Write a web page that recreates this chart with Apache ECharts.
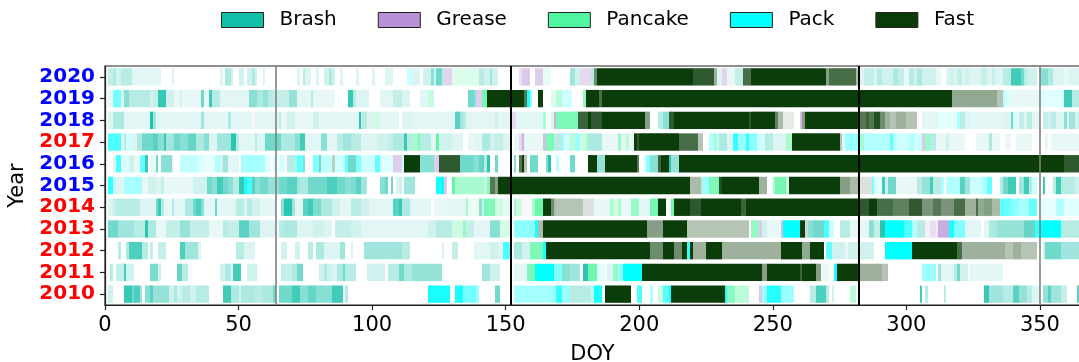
<!DOCTYPE html>
<html>
<head>
<meta charset="utf-8">
<script src="https://cdn.jsdelivr.net/npm/echarts@6/dist/echarts.min.js"></script>
<style>
html, body { margin: 0; padding: 0; background: #ffffff; }
#chart { width: 1079px; height: 362px; }
</style>
</head>
<body>
<div id="chart"></div>
<script>
// Daily ice type per year: [startDOY, endDOY, type, concentration]
// type codes: B = Brash, G = Grease, P = Pancake, K = Pack, F = Fast
const years = ['2010', '2011', '2012', '2013', '2014', '2015', '2016', '2017', '2018', '2019', '2020'];
const blueYears = ['2015', '2016', '2018', '2019', '2020'];

const y2010 = [[1,3,'B',.2],[7,10,'B',.85],[10,11,'B',.6],[11,13,'B',.75],[13,14,'B',.4],[15,17,'B',.5],[17,18,'B',.7],[18,24,'B',.45],[24,26,'B',.2],[26,27,'B',.35],[27,29,'B',.2],[29,32,'B',.3],[32,34,'B',.2],[34,39,'B',.3],[44,47,'B',.8],[47,50,'B',.35],[50,51,'B',.2],[51,56,'B',.35],[56,59,'B',.3],[59,63,'B',.35],[63,64,'B',.6],[65,70,'B',.6],[70,73,'B',.8],[73,76,'B',.5],[76,79,'B',.65],[79,85,'B',.5],[85,89,'B',.8],[90,91,'B',.3],[121,129,'K',.9],[131,134,'K',.9],[134,139,'K',.55],[139,140,'K',.4],[146,148,'B',.6],[153,167,'K',.35],[167,169,'K',.4],[169,171,'K',.8],[171,174,'K',.4],[174,182,'B',.3],[182,183,'K',.3],[183,186,'K',.9],[187,197,'F',1],[199,201,'K',.7],[204,205,'K',.3],[207,209,'P',.3],[209,211,'K',.65],[211,212,'K',.9],[212,232,'F',1],[232,233,'K',.9],[233,236,'P',.65],[236,241,'P',.4],[245,246,'G',.5],[246,248,'K',.4],[248,253,'K',.85],[253,258,'K',.4],[264,266,'B',.3],[266,270,'B',.75],[270,271,'B',.3],[272,273,'B',.2],[279,281,'P',.4],[305,306,'B',.8],[307,308,'B',.3],[314,315,'B',.3],[329,331,'B',.85],[331,336,'B',.4],[336,340,'B',.3],[340,342,'B',.7],[342,345,'B',.45],[345,347,'B',.3],[347,350,'B',.15],[351,353,'B',.45],[353,354,'B',.7],[354,358,'B',.4],[358,360,'B',.25],[364,365,'B',.7]];

const y2011 = [[2,3,'B',.3],[4,7,'B',.25],[7,8,'B',.8],[8,11,'B',.2],[17,20,'B',.55],[20,21,'B',.2],[27,29,'B',.65],[29,31,'B',.3],[43,45,'B',.2],[45,47,'B',.35],[47,48,'B',.15],[48,51,'B',.8],[53,57,'B',.2],[66,70,'B',.25],[70,72,'B',.35],[72,74,'B',.6],[80,82,'B',.2],[82,83,'B',.35],[83,85,'B',.2],[85,87,'B',.15],[87,89,'B',.35],[89,90,'B',.6],[90,94,'B',.3],[98,105,'B',.2],[106,110,'B',.3],[110,112,'B',.6],[112,115,'B',.35],[115,126,'B',.45],[141,144,'B',.4],[144,148,'B',.2],[153,158,'B',.12],[158,161,'P',.75],[161,168,'K',1],[168,171,'K',.5],[171,174,'B',.5],[174,178,'B',.4],[179,181,'B',.9],[181,184,'P',.85],[184,185,'K',.15],[185,187,'K',.1],[188,190,'B',.15],[190,192,'P',.6],[192,194,'K',.4],[194,201,'K',1],[201,246,'F',1],[246,248,'F',.5],[248,260,'F',1],[260,261,'F',.8],[261,266,'F',1],[266,268,'F',.5],[268,271,'B',.1],[273,274,'K',.9],[274,282,'F',1],[282,291,'F',.4],[291,293,'F',.3],[306,311,'K',.4],[312,313,'B',.4],[313,318,'B',.12],[318,319,'B',.3],[319,320,'B',.6],[320,323,'B',.2],[324,336,'B',.12]];

const y2012 = [[5,6,'B',.3],[8,9,'B',.35],[9,14,'B',.75],[14,16,'B',.3],[17,18,'B',.25],[20,23,'B',.25],[28,30,'B',.75],[30,35,'B',.4],[35,36,'B',.15],[49,52,'B',.3],[52,56,'B',.15],[66,68,'B',.2],[71,73,'B',.2],[76,78,'B',.3],[79,82,'B',.35],[82,88,'B',.15],[88,90,'B',.4],[92,93,'B',.15],[97,111,'B',.4],[111,114,'B',.3],[126,127,'B',.15],[130,132,'B',.25],[138,144,'B',.12],[144,147,'B',.2],[147,149,'B',.15],[149,152,'K',.7],[153,156,'B',.35],[156,159,'B',.2],[159,164,'P',.75],[164,165,'K',.9],[165,204,'F',1],[204,209,'F',.6],[209,213,'F',1],[213,216,'F',.6],[216,218,'F',1],[218,219,'K',.8],[219,220,'F',1],[220,225,'F',.4],[225,231,'F',1],[231,253,'F',.4],[253,261,'F',1],[261,264,'F',.45],[264,269,'F',1],[270,272,'K',.6],[272,277,'B',.2],[277,278,'B',.1],[278,288,'B',.2],[292,302,'K',1],[302,319,'F',1],[319,321,'F',.75],[321,337,'F',.4],[337,340,'F',.3],[340,343,'F',.4],[343,349,'F',.3],[351,352,'B',.2],[352,358,'B',.6],[358,365,'B',.4]];

const y2013 = [[1,5,'B',.6],[5,11,'B',.4],[11,15,'B',.3],[15,16,'B',.9],[16,19,'B',.35],[19,23,'B',.1],[23,28,'B',.25],[28,32,'B',.45],[32,39,'B',.25],[39,44,'B',.1],[44,46,'B',.3],[46,50,'B',.25],[50,54,'B',.7],[54,58,'B',.4],[58,64,'B',.15],[65,67,'B',.3],[67,72,'B',.35],[72,78,'B',.15],[78,82,'B',.2],[82,85,'B',.15],[86,92,'B',.25],[92,96,'B',.2],[96,121,'B',.12],[121,124,'B',.2],[124,130,'B',.3],[130,134,'P',.3],[134,135,'P',.6],[135,138,'B',.25],[138,144,'B',.12],[144,148,'B',.5],[148,151,'P',.25],[151,152,'B',.15],[153,161,'K',.45],[161,162,'K',.9],[162,164,'F',.35],[164,203,'F',1],[203,209,'F',.5],[209,218,'F',1],[218,241,'F',.3],[242,245,'P',.6],[245,246,'G',.5],[246,248,'B',.2],[248,253,'B',.1],[253,254,'G',.6],[254,260,'K',1],[260,262,'F',1],[262,263,'F',.2],[263,265,'B',.5],[265,269,'B',.6],[269,271,'K',.7],[271,273,'K',.2],[275,279,'B',.3],[279,286,'B',.1],[286,288,'B',.5],[288,290,'B',.25],[290,292,'B',.9],[292,299,'K',1],[299,302,'K',.7],[302,304,'K',.3],[304,307,'B',.3],[307,309,'G',.15],[309,311,'G',.3],[311,312,'G',.2],[312,316,'G',.75],[316,318,'K',.9],[318,322,'K',.5],[322,328,'B',.12],[329,331,'B',.12],[331,334,'B',.35],[334,344,'B',.45],[344,348,'B',.65],[348,350,'K',.8],[350,358,'K',1],[358,365,'B',.3]];

const y2014 = [[1,3,'B',.15],[3,4,'B',.25],[4,13,'B',.3],[13,19,'B',.15],[19,20,'B',.6],[20,21,'B',.85],[21,22,'B',.3],[22,25,'B',.1],[25,26,'B',.3],[26,30,'B',.12],[30,33,'B',.35],[33,34,'B',.6],[34,36,'B',.75],[36,37,'B',.5],[37,41,'B',.12],[41,42,'B',.6],[42,49,'B',.12],[49,52,'B',.3],[52,53,'B',.15],[53,55,'B',.3],[55,58,'B',.2],[58,64,'B',.12],[66,67,'B',.5],[67,70,'B',.9],[70,71,'B',.4],[71,74,'B',.12],[74,76,'B',.7],[76,78,'B',.8],[78,81,'B',.55],[81,85,'B',.35],[85,88,'B',.2],[88,92,'B',.12],[92,96,'B',.3],[96,99,'B',.2],[99,108,'B',.12],[108,110,'B',.7],[110,111,'B',.85],[111,114,'B',.35],[114,122,'B',.12],[123,128,'B',.1],[128,135,'B',.12],[135,136,'P',.5],[136,140,'P',.12],[140,141,'B',.5],[141,142,'P',.35],[142,146,'P',.75],[146,149,'P',.3],[149,151,'B',.1],[151,152,'P',.25],[153,154,'P',.5],[154,156,'P',.3],[156,160,'G',.08],[160,161,'P',.5],[161,164,'P',.85],[164,167,'F',1],[167,168,'F',.6],[168,169,'F',.35],[169,179,'F',.3],[179,183,'F',.15],[183,189,'B',.1],[189,190,'P',.5],[190,192,'P',.3],[192,193,'P',.5],[193,197,'B',.1],[197,200,'P',.6],[200,204,'B',.12],[204,207,'P',.8],[207,210,'F',1],[210,212,'B',.05],[212,213,'P',.8],[213,219,'F',1],[219,223,'F',.85],[223,238,'F',1],[238,240,'F',.8],[240,282,'F',1],[282,286,'F',.85],[286,289,'F',1],[289,295,'F',.75],[295,301,'F',.65],[301,306,'F',.85],[306,310,'F',.55],[310,313,'F',.7],[313,318,'F',.55],[318,322,'F',.75],[322,326,'F',.4],[326,327,'F',.75],[327,329,'F',.45],[329,332,'F',.5],[332,335,'F',.35],[335,339,'K',.6],[339,342,'K',.45],[342,346,'K',.35],[346,349,'K',.6],[350,356,'K',.1],[356,359,'K',.3],[359,365,'K',.12]];

const y2015 = [[1,3,'K',.8],[3,4,'K',.25],[4,7,'B',.15],[7,14,'K',.35],[14,16,'B',.1],[16,19,'B',.2],[19,21,'B',.15],[21,22,'B',.25],[22,33,'B',.1],[33,38,'B',.2],[38,40,'B',.6],[40,42,'B',.5],[42,44,'B',.8],[44,46,'B',.6],[46,48,'B',.5],[48,50,'B',.3],[50,52,'B',.85],[52,53,'K',.9],[53,55,'K',.7],[55,56,'B',.7],[56,58,'B',.5],[58,61,'B',.6],[61,65,'B',.45],[65,68,'B',.6],[68,72,'B',.7],[72,73,'B',.4],[73,76,'B',.35],[76,83,'B',.6],[83,87,'B',.75],[87,90,'B',.6],[90,92,'B',.5],[92,94,'B',.55],[94,96,'B',.7],[96,98,'B',.4],[103,105,'B',.5],[105,106,'B',.6],[107,108,'B',.6],[109,110,'B',.15],[110,111,'B',.2],[112,116,'B',.4],[124,126,'K',.9],[126,127,'K',1],[127,128,'G',.5],[130,131,'P',.9],[131,142,'P',.5],[142,143,'P',.3],[143,144,'P',.7],[144,146,'F',.7],[146,147,'F',.5],[147,219,'F',1],[219,223,'F',.35],[223,224,'B',.3],[224,226,'K',.4],[226,230,'P',.75],[230,231,'F',.9],[231,245,'F',1],[245,248,'F',.4],[250,251,'P',.5],[251,255,'P',.8],[255,256,'P',.3],[256,275,'F',1],[275,279,'F',.5],[279,282,'F',.35],[282,287,'F',.15],[287,288,'K',.5],[288,289,'K',.2],[289,291,'K',.1],[291,292,'B',.8],[292,293,'B',.2],[293,296,'B',.6],[296,304,'B',.1],[304,306,'B',.3],[306,309,'B',.45],[309,310,'B',.8],[310,313,'B',.3],[313,314,'K',.3],[315,320,'K',.3],[320,322,'B',.7],[322,324,'B',.4],[324,328,'K',.2],[328,330,'K',.3],[330,332,'K',.6],[335,336,'B',.3],[336,338,'B',.6],[338,341,'B',.8],[342,344,'B',.4],[344,346,'B',.8],[346,347,'B',.3],[347,349,'K',.2],[351,352,'B',.8],[355,356,'B',.3],[356,358,'B',.8],[358,363,'B',.3],[363,365,'B',.2]];

const y2016 = [[3,4,'B',.15],[4,6,'K',.7],[6,9,'K',.15],[9,11,'B',.2],[11,13,'B',.1],[13,15,'K',.6],[15,16,'B',.85],[17,19,'B',.1],[19,20,'B',.6],[21,25,'B',.5],[25,26,'G',.15],[28,35,'K',.25],[35,37,'K',.15],[37,41,'K',.1],[41,43,'K',.3],[43,44,'B',.2],[44,46,'B',.4],[46,50,'B',.12],[51,60,'K',.35],[60,62,'K',.12],[63,64,'K',.15],[65,67,'K',.2],[68,71,'B',.3],[71,72,'K',.4],[72,74,'K',.6],[74,75,'B',.5],[78,80,'K',.5],[80,81,'B',.6],[81,85,'K',.25],[85,86,'F',.25],[86,90,'K',.2],[90,91,'K',.6],[91,94,'B',.6],[94,96,'K',.5],[96,101,'K',.2],[101,103,'K',.6],[103,105,'K',.15],[105,108,'K',.15],[108,111,'G',.45],[111,112,'K',.2],[112,118,'F',1],[118,123,'B',.5],[123,125,'G',.45],[125,133,'F',.85],[133,138,'B',.6],[138,140,'B',.5],[140,142,'B',.65],[142,143,'B',.3],[143,144,'B',.9],[146,147,'B',.6],[153,154,'B',.5],[155,156,'F',.7],[156,157,'F',1],[157,158,'F',.3],[159,162,'B',.6],[165,166,'B',.5],[166,167,'B',.9],[169,170,'K',.25],[174,176,'B',.6],[181,184,'F',1],[184,187,'B',.45],[187,199,'F',1],[199,200,'F',.7],[202,203,'K',.3],[203,204,'K',.5],[204,207,'B',.5],[207,208,'F',.8],[208,211,'F',1],[211,212,'B',.9],[212,215,'B',.45],[215,359,'F',1],[359,365,'F',.85]];

const y2017 = [[1,6,'K',.7],[6,7,'B',.15],[7,8,'B',.3],[8,10,'K',.2],[10,12,'B',.15],[12,14,'B',.35],[14,18,'B',.6],[18,20,'B',.7],[20,22,'B',.5],[22,23,'B',.85],[23,26,'B',.4],[26,28,'B',.6],[28,31,'B',.5],[31,34,'B',.65],[34,37,'B',.35],[37,39,'B',.5],[39,42,'B',.15],[42,47,'B',.4],[47,49,'B',.9],[49,50,'B',.3],[50,56,'B',.12],[56,57,'B',.3],[57,60,'B',.15],[60,66,'B',.6],[66,71,'B',.35],[71,73,'B',.5],[73,75,'B',.8],[75,81,'B',.12],[81,83,'B',.5],[83,87,'B',.12],[87,89,'B',.3],[89,92,'B',.4],[92,96,'B',.3],[96,102,'B',.15],[102,106,'B',.2],[106,108,'B',.25],[108,112,'B',.35],[112,113,'B',.85],[113,115,'B',.3],[115,117,'P',.5],[117,118,'P',.7],[118,122,'B',.3],[122,124,'B',.12],[124,125,'P',.9],[125,130,'B',.2],[130,134,'B',.15],[136,138,'B',.1],[138,141,'B',.12],[141,144,'B',.35],[144,146,'B',.2],[146,149,'B',.25],[149,152,'B',.15],[153,155,'B',.1],[155,156,'G',.35],[156,157,'G',.7],[157,164,'B',.1],[164,165,'G',.6],[165,168,'P',.75],[168,171,'B',.3],[171,172,'K',.4],[172,174,'K',.2],[174,176,'P',.4],[176,178,'K',.4],[178,180,'P',.3],[180,181,'P',.5],[181,186,'B',.35],[186,192,'B',.1],[192,193,'P',.6],[193,195,'B',.12],[195,196,'P',.4],[196,198,'B',.1],[198,199,'F',1],[199,200,'F',.85],[200,215,'F',1],[215,222,'F',.75],[222,224,'F',.3],[226,228,'K',.3],[228,229,'P',.5],[229,230,'K',.25],[230,233,'B',.35],[233,235,'B',.15],[235,237,'K',.8],[237,240,'K',.4],[240,241,'K',.8],[241,244,'K',.45],[244,247,'K',.2],[247,250,'B',.3],[250,255,'B',.15],[255,257,'P',.5],[257,275,'F',1],[275,276,'F',.3],[276,277,'B',.12],[277,283,'K',.4],[283,284,'P',.5],[284,294,'K',.3],[294,295,'K',.6],[295,296,'K',.3],[296,301,'K',.2],[301,303,'K',.3],[303,306,'K',.2],[306,307,'G',.5],[307,309,'P',.6],[309,311,'B',.3],[311,315,'B',.1],[315,316,'B',.2],[316,322,'B',.1],[326,331,'B',.1],[331,332,'B',.35],[332,335,'B',.1],[337,339,'B',.1],[341,347,'B',.1],[352,353,'B',.1],[354,365,'B',.1]];

const y2018 = [[1,3,'B',.15],[3,7,'B',.35],[7,17,'B',.12],[17,18,'B',.95],[18,19,'B',.4],[19,36,'B',.12],[36,37,'B',.4],[37,46,'B',.12],[46,47,'B',.35],[47,55,'B',.12],[55,56,'G',.1],[56,65,'B',.12],[65,66,'B',.3],[66,68,'B',.1],[68,71,'B',.2],[71,78,'B',.1],[78,80,'B',.2],[80,95,'B',.12],[95,96,'B',.9],[96,98,'B',.3],[98,101,'B',.15],[101,103,'P',.3],[103,110,'B',.12],[111,115,'B',.15],[115,131,'B',.12],[131,133,'B',.7],[133,134,'B',.4],[134,135,'B',.3],[135,137,'B',.15],[137,146,'B',.12],[146,147,'B',.2],[147,152,'B',.12],[152,154,'G',.35],[154,164,'B',.12],[164,165,'P',.5],[167,168,'P',.25],[168,169,'G',.7],[169,177,'P',.75],[177,181,'F',.8],[181,182,'F',1],[182,186,'F',.85],[186,202,'F',1],[202,204,'F',.5],[207,209,'B',.3],[209,211,'B',.5],[211,213,'F',.85],[213,241,'F',1],[241,242,'F',.85],[242,251,'F',1],[251,252,'F',.65],[252,254,'F',.35],[254,258,'F',.1],[260,261,'G',.6],[261,262,'F',.5],[262,282,'F',1],[282,285,'F',.7],[285,286,'F',.8],[286,288,'F',.7],[288,290,'F',.9],[290,292,'F',.6],[292,294,'F',.4],[294,296,'F',.3],[296,300,'F',.4],[300,304,'F',.3],[306,312,'B',.12],[312,319,'K',.1],[319,320,'K',.3],[320,322,'B',.3],[322,324,'B',.15],[324,336,'B',.12],[336,339,'B',.15],[339,340,'B',.6],[340,342,'K',.15],[342,344,'B',.25],[344,345,'B',.15],[345,347,'B',.3],[347,350,'B',.12],[351,353,'B',.25],[353,354,'B',.2],[354,356,'B',.3],[356,359,'B',.15],[359,360,'B',.5],[360,361,'B',.15],[361,363,'B',.4],[363,365,'B',.2]];

const y2019 = [[1,3,'B',.1],[3,6,'K',.55],[6,7,'B',.15],[7,9,'B',.5],[9,17,'B',.3],[17,18,'B',.2],[18,20,'B',.25],[20,23,'B',.85],[23,26,'B',.2],[26,28,'B',.1],[28,29,'B',.2],[29,36,'B',.1],[36,37,'B',.6],[37,39,'B',.1],[39,40,'B',.8],[40,43,'B',.3],[43,54,'B',.12],[54,57,'B',.5],[57,59,'B',.35],[59,61,'B',.45],[61,63,'B',.3],[63,69,'B',.25],[69,72,'B',.45],[72,77,'B',.12],[77,78,'B',.3],[78,86,'B',.1],[91,93,'B',.85],[93,94,'B',.3],[94,99,'B',.15],[103,108,'B',.12],[108,111,'B',.25],[111,114,'B',.15],[118,121,'B',.12],[121,123,'P',.35],[136,138,'B',.6],[138,139,'B',.5],[139,141,'G',.45],[141,143,'P',.8],[143,157,'F',1],[157,158,'F',.7],[158,159,'K',.9],[159,160,'K',.4],[162,164,'F',1],[167,169,'P',.2],[169,171,'P',.4],[171,175,'K',.2],[179,180,'P',.6],[180,185,'F',1],[185,186,'F',.75],[186,317,'F',1],[317,334,'F',.45],[334,336,'F',.3],[336,337,'K',.3],[337,339,'K',.15],[339,350,'B',.1],[350,359,'K',.12],[359,362,'B',.8],[362,365,'B',.3]];

const y2020 = [[1,3,'B',.25],[3,4,'B',.35],[4,6,'B',.2],[6,10,'B',.3],[10,21,'B',.12],[25,26,'B',.15],[43,44,'B',.15],[45,47,'B',.35],[47,48,'B',.2],[50,52,'B',.2],[53,55,'B',.2],[55,56,'B',.35],[56,57,'B',.2],[59,60,'B',.15],[72,73,'B',.15],[74,75,'B',.3],[75,77,'B',.15],[79,80,'B',.15],[82,84,'B',.2],[84,85,'B',.35],[85,86,'B',.2],[88,89,'B',.15],[94,95,'B',.15],[100,101,'B',.15],[105,108,'B',.15],[113,115,'K',.2],[115,118,'B',.15],[119,122,'B',.2],[122,123,'B',.5],[123,124,'B',.2],[124,126,'B',.6],[126,127,'B',.3],[127,130,'G',.4],[130,133,'P',.2],[133,140,'P',.2],[140,142,'B',.3],[142,144,'B',.2],[144,145,'B',.4],[145,147,'B',.2],[155,156,'G',.3],[156,159,'G',.5],[161,164,'G',.45],[164,167,'P',.15],[174,176,'B',.4],[176,178,'B',.2],[178,182,'G',.35],[182,183,'B',.3],[183,184,'F',.6],[184,220,'F',1],[220,228,'F',.85],[228,229,'F',.4],[229,231,'B',.15],[231,233,'G',.4],[233,236,'B',.1],[236,239,'B',.25],[239,242,'F',.75],[242,270,'F',1],[270,271,'F',.5],[271,281,'F',.75],[281,282,'F',.35],[282,284,'B',.15],[284,288,'B',.25],[288,289,'B',.15],[289,291,'B',.3],[291,295,'B',.2],[295,297,'B',.35],[297,299,'B',.25],[299,301,'B',.1],[301,303,'B',.3],[303,304,'B',.2],[304,306,'B',.35],[306,311,'B',.2],[311,313,'B',.1],[315,316,'B',.15],[316,318,'B',.2],[318,319,'B',.15],[319,321,'B',.25],[321,322,'B',.15],[322,324,'B',.2],[324,328,'B',.15],[328,330,'B',.25],[330,332,'B',.15],[332,333,'B',.25],[333,336,'B',.15],[336,339,'B',.3],[339,343,'B',.8],[343,344,'B',.6],[344,345,'B',.3],[345,349,'B',.2],[350,353,'B',.5],[353,355,'B',.35],[355,359,'B',.15],[359,361,'B',.1],[361,365,'B',.15]];

const yearRows = [y2010, y2011, y2012, y2013, y2014, y2015, y2016, y2017, y2018, y2019, y2020];

const iceTypes = [
  { code: 'B', name: 'Brash',   color: '#12BFA9' },
  { code: 'G', name: 'Grease',  color: '#B891D6' },
  { code: 'P', name: 'Pancake', color: '#52F5A0' },
  { code: 'K', name: 'Pack',    color: '#00FFFF' },
  { code: 'F', name: 'Fast',    color: '#0B3D0B' }
];

// reference lines along the DOY axis: [doy, colour]
const refLines = [[64, '#808080'], [152, '#000000'], [282, '#000000'], [350, '#808080']];
const xTicks = [0, 50, 100, 150, 200, 250, 300, 350];

const FONT = 'DejaVu Sans';

function renderSpan(params, api) {
  const row = api.value(2);
  const a = api.coord([api.value(0), row]);
  const b = api.coord([api.value(1), row]);
  const h = api.size([0, 1])[1] * 0.8;
  const x0 = Math.round(a[0]);
  const x1 = Math.round(b[0]);
  return {
    type: 'rect',
    shape: { x: x0, y: a[1] - h / 2, width: x1 - x0, height: h },
    style: { fill: api.visual('color'), opacity: api.value(3) }
  };
}

const series = iceTypes.map(t => {
  const data = [];
  yearRows.forEach((row, yi) => {
    row.forEach(s => { if (s[2] === t.code) data.push([s[0], s[1], yi, s[3]]); });
  });
  return {
    type: 'custom',
    name: t.name,
    renderItem: renderSpan,
    itemStyle: { color: t.color },
    encode: { x: [0, 1], y: 2 },
    data: data,
    z: 2
  };
});

series.push({
  type: 'custom',
  name: 'refs',
  renderItem: () => null,
  data: [],
  z: 5,
  markLine: {
    silent: true,
    symbol: 'none',
    z: 10,
    label: { show: false },
    data: refLines.map(r => ({ xAxis: r[0], lineStyle: { color: r[1], width: r[1] === '#000000' ? 2 : 1.6, type: 'solid', opacity: 1 } }))
  }
});

const chart = echarts.init(document.getElementById('chart'), null, { renderer: 'canvas' });
chart.setOption({
  backgroundColor: '#ffffff',
  animation: false,
  legend: {
    data: iceTypes.map(t => t.name),
    left: 216,
    top: 5,
    itemWidth: 42,
    itemHeight: 15,
    itemGap: 41,
    icon: 'rect',
    itemStyle: { borderColor: '#222222', borderWidth: 1 },
    textStyle: { fontFamily: FONT, fontSize: 20, color: '#000000', padding: [0, 0, 0, 11] }
  },
  grid: {
    left: 105, right: -1, top: 66, bottom: 57,
    outerBoundsMode: 'none',
    containLabel: false,
    show: true, borderColor: '#222222', borderWidth: 1.2, backgroundColor: 'transparent'
  },
  xAxis: {
    type: 'value',
    min: 0, max: 365, interval: 50,
    name: 'DOY', nameLocation: 'middle', nameGap: 39,
    nameTextStyle: { fontFamily: FONT, fontSize: 21, color: '#000000' },
    axisLine: { show: true, lineStyle: { color: '#222222', width: 1.2 } },
    axisTick: { show: true, length: 5, lineStyle: { color: '#222222', width: 1.2 } },
    axisLabel: {
      fontFamily: FONT, fontSize: 21, color: '#000000', margin: 10, showMaxLabel: false,
      formatter: v => (xTicks.indexOf(v) >= 0 ? String(v) : '')
    },
    splitLine: { show: false }
  },
  yAxis: {
    type: 'category',
    data: years,
    name: 'Year', nameLocation: 'middle', nameGap: 75,
    nameTextStyle: { fontFamily: FONT, fontSize: 21, color: '#000000' },
    axisLine: { show: true, lineStyle: { color: '#222222', width: 1.2 } },
    axisTick: { show: true, alignWithLabel: true, length: 5, lineStyle: { color: '#222222', width: 1.2 } },
    axisLabel: {
      margin: 10,
      formatter: v => (blueYears.indexOf(v) >= 0 ? '{b|' + v + '}' : '{r|' + v + '}'),
      rich: {
        b: { color: '#0000FF', fontWeight: 'bold', fontSize: 20, fontFamily: FONT },
        r: { color: '#FF0000', fontWeight: 'bold', fontSize: 20, fontFamily: FONT }
      }
    },
    splitLine: { show: false }
  },
  series: series
});
</script>
</body>
</html>
